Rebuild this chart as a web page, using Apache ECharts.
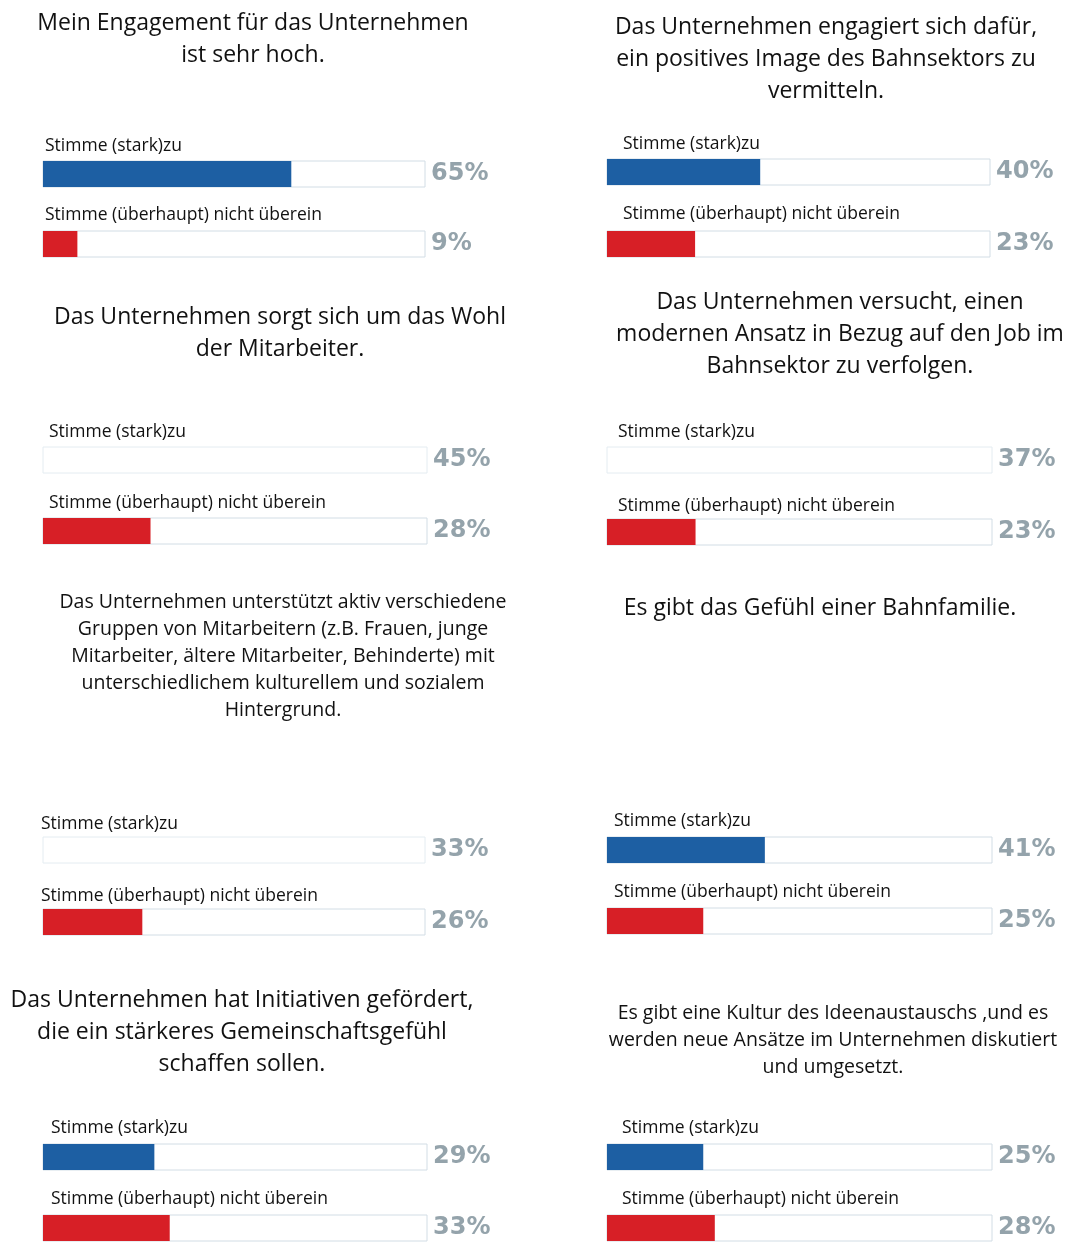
<!DOCTYPE html>
<html>
<head>
<meta charset="utf-8">
<script src="https://cdn.jsdelivr.net/npm/echarts@6/dist/echarts.min.js"></script>
<style>
  html, body { margin: 0; padding: 0; background: #fff; }
  #chart { width: 1078px; height: 1244px; }
</style>
</head>
<body>
<div id="chart"></div>
<script>
// Fragen (eine pro Panel, links/rechts, oben nach unten)
const questions = [
  'Mein Engagement für das Unternehmen\nist sehr hoch.',
  'Das Unternehmen engagiert sich dafür,\nein positives Image des Bahnsektors zu\nvermitteln.',
  'Das Unternehmen sorgt sich um das Wohl\nder Mitarbeiter.',
  'Das Unternehmen versucht, einen\nmodernen Ansatz in Bezug auf den Job im\nBahnsektor zu verfolgen.',
  'Das Unternehmen unterstützt aktiv verschiedene\nGruppen von Mitarbeitern (z.B. Frauen, junge\nMitarbeiter, ältere Mitarbeiter, Behinderte) mit\nunterschiedlichem kulturellem und sozialem\nHintergrund.',
  'Es gibt das Gefühl einer Bahnfamilie.',
  'Das Unternehmen hat Initiativen gefördert,\ndie ein stärkeres Gemeinschaftsgefühl\nschaffen sollen.',
  'Es gibt eine Kultur des Ideenaustauschs ,und es\nwerden neue Ansätze im Unternehmen diskutiert\nund umgesetzt.'
]
const categories = ['Stimme (stark)zu', 'Stimme (überhaupt) nicht überein']
const agree = [65, 40, 45, 37, 33, 41, 29, 25]
const disagree = [9, 23, 28, 23, 26, 25, 33, 28]

// im Original fehlen bei diesen Panels die blauen Balken
const hiddenAgree = [2, 3, 4]

const BLUE = '#1d5fa3'
const RED = '#d71f26'

// Layout je Panel: Balkenbereich, Titel, Beschriftungen
const layout = [
  { track: [43, 425], tx: 253, ty: 7, fs: 23, lh: 32, lx: 45, ly: [146, 215], by: [174, 244] },
  { track: [607, 990], tx: 826, ty: 11, fs: 23, lh: 32, lx: 623, ly: [144, 214], by: [172, 244] },
  { track: [43, 427], tx: 280, ty: 301, fs: 23, lh: 32, lx: 49, ly: [432, 503], by: [460, 531] },
  { track: [607, 992], tx: 840, ty: 286, fs: 23, lh: 32, lx: 618, ly: [432, 506], by: [460, 532] },
  { track: [43, 425], tx: 283, ty: 589, fs: 19.5, lh: 27, lx: 41, ly: [824, 896], by: [850, 922] },
  { track: [607, 992], tx: 820, ty: 592, fs: 23, lh: 32, lx: 614, ly: [821, 892], by: [850, 921] },
  { track: [43, 427], tx: 242, ty: 984, fs: 23, lh: 32, lx: 51, ly: [1128, 1199], by: [1157, 1228] },
  { track: [607, 992], tx: 833, ty: 1000, fs: 19.5, lh: 27, lx: 622, ly: [1128, 1199], by: [1157, 1228] }
]

const chart = echarts.init(document.getElementById('chart'))

const grid = []
const xAxis = []
const yAxis = []
const series = []
const graphic = []

layout.forEach((p, i) => {
  graphic.push({
    type: 'text',
    x: p.tx,
    y: p.ty,
    style: {
      text: questions[i],
      align: 'center',
      verticalAlign: 'top',
      fontFamily: 'Open Sans',
      fontSize: p.fs,
      lineHeight: p.lh,
      fill: '#111'
    }
  })

  const values = [agree[i], disagree[i]]
  values.forEach((v, k) => {
    const g = grid.length
    const hidden = k === 0 && hiddenAgree.includes(i)

    graphic.push({
      type: 'text',
      x: p.lx,
      y: p.ly[k],
      style: {
        text: categories[k],
        align: 'left',
        verticalAlign: 'middle',
        fontFamily: 'Open Sans',
        fontSize: 17.5,
        fill: '#111'
      }
    })

    grid.push({
      left: p.track[0],
      width: p.track[1] - p.track[0],
      top: p.by[k] - 13,
      height: 26
    })
    xAxis.push({ gridIndex: g, type: 'value', min: 0, max: 100, show: false })
    yAxis.push({ gridIndex: g, type: 'category', data: [categories[k]], show: false })
    yAxis.push({
      gridIndex: g,
      type: 'category',
      position: 'right',
      data: [v + '%'],
      axisLine: { show: false },
      axisTick: { show: false },
      axisLabel: {
        margin: 6,
        color: '#94a3ab',
        fontFamily: 'DejaVu Sans',
        fontWeight: 'bold',
        fontSize: 24
      }
    })
    series.push({
      type: 'bar',
      xAxisIndex: g,
      yAxisIndex: g * 2,
      data: [v],
      barWidth: 26,
      silent: true,
      itemStyle: { color: hidden ? 'rgba(0,0,0,0)' : (k === 0 ? BLUE : RED) },
      showBackground: true,
      backgroundStyle: {
        color: '#fff',
        borderColor: hidden ? '#e4ecf1' : '#d2dde5',
        borderWidth: 1
      }
    })
  })
})

chart.setOption({
  animation: false,
  backgroundColor: '#fff',
  grid,
  xAxis,
  yAxis,
  series,
  graphic
})
</script>
</body>
</html>
